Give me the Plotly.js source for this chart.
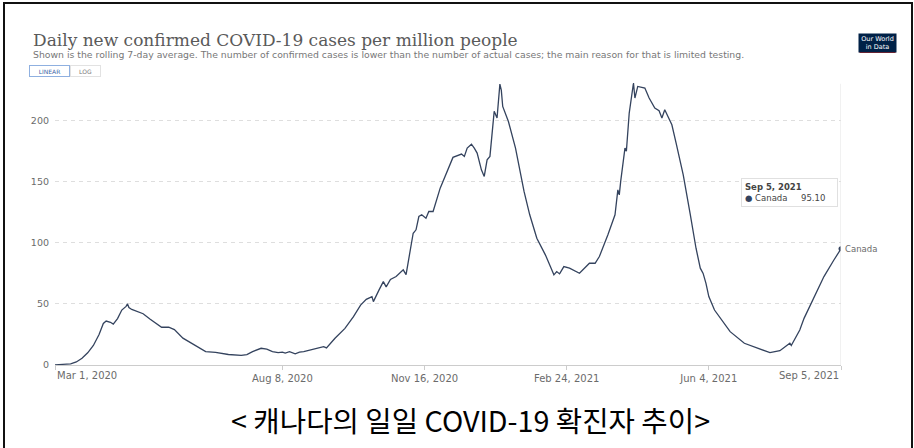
<!DOCTYPE html>
<html><head><meta charset="utf-8">
<script src="https://cdn.plot.ly/plotly-3.0.1.min.js"></script>
<style>
html,body{margin:0;padding:0;background:#fff;overflow:hidden;}
#wrap{position:relative;width:914px;height:448px;}
#chart{position:absolute;left:0;top:0;width:914px;height:448px;}
#frame{position:absolute;left:3px;top:2px;width:906px;height:460px;border:2px solid #111;border-bottom:none;pointer-events:none;}
</style></head>
<body><div id="wrap"><div id="chart"></div><div id="frame"></div></div>
<script>
// Canada, daily new confirmed cases per million (7-day avg)
const dates = ["2020-03-01","2020-03-08","2020-03-12","2020-03-16","2020-03-20","2020-03-24","2020-03-28","2020-04-01","2020-04-04","2020-04-06","2020-04-09","2020-04-11","2020-04-14","2020-04-17","2020-04-20","2020-04-21","2020-04-22","2020-04-24","2020-04-28","2020-05-02","2020-05-07","2020-05-12","2020-05-15","2020-05-20","2020-05-24","2020-05-30","2020-06-05","2020-06-10","2020-06-15","2020-06-22","2020-07-01","2020-07-10","2020-07-14","2020-07-18","2020-07-24","2020-07-28","2020-08-01","2020-08-05","2020-08-08","2020-08-10","2020-08-13","2020-08-17","2020-08-20","2020-08-23","2020-08-30","2020-09-06","2020-09-08","2020-09-14","2020-09-21","2020-09-27","2020-10-02","2020-10-06","2020-10-10","2020-10-11","2020-10-15","2020-10-18","2020-10-20","2020-10-23","2020-10-27","2020-11-01","2020-11-03","2020-11-05","2020-11-08","2020-11-10","2020-11-12","2020-11-14","2020-11-17","2020-11-19","2020-11-22","2020-11-27","2020-12-03","2020-12-06","2020-12-12","2020-12-14","2020-12-16","2020-12-19","2020-12-21","2020-12-23","2020-12-26","2020-12-28","2020-12-30","2021-01-01","2021-01-04","2021-01-06","2021-01-08","2021-01-09","2021-01-10","2021-01-14","2021-01-19","2021-01-25","2021-01-29","2021-02-03","2021-02-09","2021-02-11","2021-02-15","2021-02-17","2021-02-19","2021-02-22","2021-02-26","2021-03-05","2021-03-12","2021-03-16","2021-03-19","2021-03-25","2021-03-30","2021-04-01","2021-04-02","2021-04-03","2021-04-06","2021-04-07","2021-04-09","2021-04-12","2021-04-13","2021-04-15","2021-04-20","2021-04-23","2021-04-27","2021-04-30","2021-05-02","2021-05-04","2021-05-09","2021-05-12","2021-05-17","2021-05-22","2021-05-26","2021-05-29","2021-05-31","2021-06-02","2021-06-04","2021-06-08","2021-06-12","2021-06-19","2021-06-29","2021-07-08","2021-07-17","2021-07-24","2021-07-31","2021-08-01","2021-08-07","2021-08-10","2021-08-17","2021-08-24","2021-08-31","2021-09-05"];
const cases = [0.1,0.5,1.0,2.5,5.5,10,16,25,34,36,35,33.5,38,45,48,50,47,45.5,43.5,42,37.5,33,30.9,31,29,22,18,14.5,11,10.4,8.6,7.9,8.5,11,13.7,13,11,10.2,10.6,9.8,11,9.2,10.5,10.9,12.8,15,14,21.9,30,39.6,49,53.8,56,51.9,61.5,68.3,64,70,72.4,77.9,74,88.8,107.9,110.7,121.6,123,120.2,125.7,125.7,144.8,162.5,170,172.7,170.8,177.6,180.8,177.6,173.5,159.8,154.4,168,170.8,207.7,202.2,230,225,211.7,199.4,177.6,142.1,123,103.8,90.2,84.7,73.8,76.5,74.6,80.6,79.3,75.1,83.3,83.3,88.8,106.6,123,143.4,139.3,150.3,177.6,175,206.3,230.9,218.6,228.1,226.8,218.6,210.4,208.2,202.2,209,196.7,181.7,155.7,123,95.6,79.3,75,66.9,56,45,38.2,27.3,17.8,13.7,10.1,11.7,17.8,16,28.7,38.2,56,72.4,86,95.1];
const yTicks = [0,50,100,150,200];
const xTickDates = ["2020-03-01","2020-08-08","2020-11-16","2021-02-24","2021-06-04","2021-09-05"];
const xTickLabels = ["Mar 1, 2020","Aug 8, 2020","Nov 16, 2020","Feb 24, 2021","Jun 4, 2021","Sep 5, 2021"];
const seriesName = "Canada";
const lastDate = dates[dates.length-1];
const lastValue = "95.10";

// layout geometry (pixels)
const L=55, R=841, T=78, B=365;
const px = p => (p-L)/(R-L);
const py = p => (B-p)/(B-T);

const lineColor = "#34435e";
const grey = "#6b6b6b";
const SANS = "DejaVu Sans";

const data = [{
  x: dates, y: cases, type: "scatter", mode: "lines",
  line: {color: lineColor, width: 1.3}, hoverinfo: "skip"
},{
  x: [lastDate], y: [cases[cases.length-1]], type: "scatter", mode: "markers",
  marker: {color: lineColor, size: 5}, hoverinfo: "skip"
}];

const ann = [];
// first and last x tick labels (edge-aligned)
ann.push({x: xTickDates[0], xref: "x", y: 0, yref: "paper", yshift: -3, yanchor: "top", xanchor: "left",
  text: xTickLabels[0], showarrow: false, font: {family: SANS, size: 10, color: grey}});
ann.push({x: xTickDates[5], xref: "x", y: 0, yref: "paper", yshift: -3, yanchor: "top", xanchor: "right",
  text: xTickLabels[5], showarrow: false, font: {family: SANS, size: 10, color: grey}});
// title & subtitle
ann.push({x: px(31), y: py(40), xref: "paper", yref: "paper", xanchor: "left", yanchor: "middle", showarrow: false,
  text: "Daily new confirmed COVID-19 cases per million people", font: {family: "DejaVu Serif", size: 17, color: "#5a5a5a"}});
ann.push({x: px(31), y: py(54), xref: "paper", yref: "paper", xanchor: "left", yanchor: "middle", showarrow: false,
  text: "Shown is the rolling 7-day average. The number of confirmed cases is lower than the number of actual cases; the main reason for that is limited testing.",
  font: {family: SANS, size: 9.3, color: "#777"}});
// linear / log buttons
ann.push({x: px(49.5), y: py(71), xref: "paper", yref: "paper", xanchor: "center", yanchor: "middle", showarrow: false, text: "LINEAR",
  font: {family: SANS, size: 6, color: "#3a66a8"}, bordercolor: "#8fb0e0", borderwidth: 1, borderpad: 1.5, bgcolor: "#fff", width: 36});
ann.push({x: px(85), y: py(71), xref: "paper", yref: "paper", xanchor: "center", yanchor: "middle", showarrow: false, text: "LOG",
  font: {family: SANS, size: 6, color: "#777"}, bordercolor: "#e2e2e2", borderwidth: 1, borderpad: 1.5, bgcolor: "#fff", width: 26});
// logo
ann.push({x: px(877.5), y: py(43), xref: "paper", yref: "paper", xanchor: "center", yanchor: "middle", showarrow: false, text: "Our World<br>in Data",
  font: {family: SANS, size: 6.5, color: "#fff"}, bgcolor: "#002147", borderpad: 1, width: 35});
// tooltip
ann.push({x: px(741), y: py(178), xref: "paper", yref: "paper", xanchor: "left", yanchor: "top", showarrow: false, align: "left",
  text: "<b>Sep 5, 2021</b><br><span style='color:"+lineColor+"'>●</span> " + seriesName + "&nbsp;&nbsp;&nbsp;&nbsp;&nbsp;" + lastValue,
  font: {family: SANS, size: 8.5, color: "#444"}, bordercolor: "#e0e0e0", borderwidth: 1, borderpad: 3, bgcolor: "#fff", width: 89});
// end label
ann.push({x: lastDate, xref: "x", y: cases[cases.length-1], yref: "y", xanchor: "left", yanchor: "middle", xshift: 2, showarrow: false,
  text: seriesName, font: {family: SANS, size: 8.5, color: grey}});
// caption
ann.push({x: px(471), y: py(419), xref: "paper", yref: "paper", xanchor: "center", yanchor: "middle", showarrow: false,
  text: "< 캐나다의 일일 COVID-19 확진자 추이>", font: {family: "Noto Sans CJK KR", size: 28.7, color: "#000"}});

const shapes = [
  {type: "line", xref: "x", yref: "paper", x0: lastDate, x1: lastDate, y0: 0, y1: 0.98, line: {color: "#e2e2e2", width: 1}},
  {type: "rect", xref: "paper", yref: "paper", x0: px(859.5), x1: px(895.5), y0: py(53), y1: py(51), fillcolor: "#ce261e", line: {width: 0}}
];

const layout = {
  width: 914, height: 448,
  margin: {l: L, r: 914-R, t: T, b: 448-B},
  paper_bgcolor: "#fff", plot_bgcolor: "#fff",
  showlegend: false,
  xaxis: {type: "date", range: [dates[0], lastDate], tickvals: xTickDates,
    ticktext: ["", xTickLabels[1], xTickLabels[2], xTickLabels[3], xTickLabels[4], ""],
    showgrid: false, zeroline: false, showline: true, linecolor: "#ccc", linewidth: 1,
    ticks: "outside", ticklen: 4, tickcolor: "#ccc",
    tickfont: {family: SANS, size: 10, color: grey}, fixedrange: true},
  yaxis: {range: [0, 235], tickvals: yTicks, ticktext: yTicks.map(String),
    showgrid: true, gridcolor: "#dedede", griddash: "4px,4px", zeroline: false, showline: false,
    ticks: "", ticklabelstandoff: 5,
    tickfont: {family: SANS, size: 9.5, color: grey}, fixedrange: true},
  annotations: ann, shapes: shapes
};
Plotly.newPlot("chart", data, layout, {displayModeBar: false, staticPlot: true});
</script></body></html>
